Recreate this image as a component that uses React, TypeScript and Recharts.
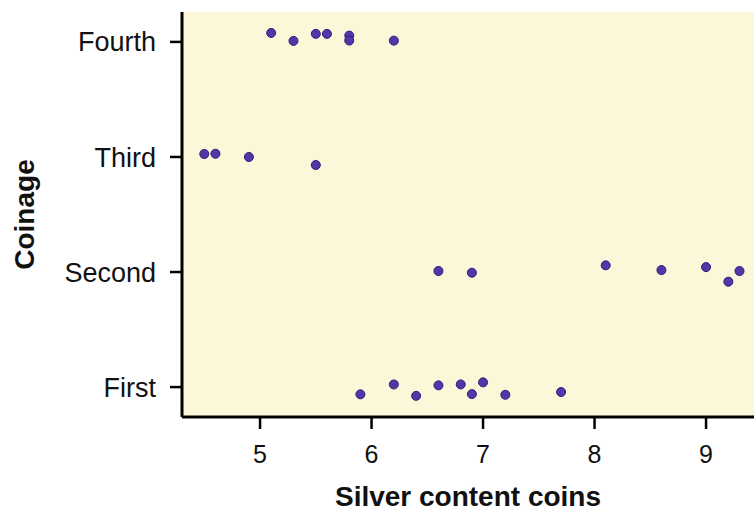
import React from "react";
import { ScatterChart, Scatter, XAxis, YAxis, ReferenceArea, Label } from "recharts";

const categories = ["First", "Second", "Third", "Fourth"];
const xTicks = [5, 6, 7, 8, 9];

const firstX = [5.9, 6.2, 6.4, 6.6, 6.8, 6.9, 7.0, 7.2, 7.7];
const firstY = [0.937, 1.023, 0.924, 1.015, 1.023, 0.939, 1.041, 0.933, 0.957];
const secondX = [6.6, 6.9, 8.1, 8.6, 9.0, 9.2, 9.3];
const secondY = [2.009, 1.994, 2.058, 2.017, 2.043, 1.916, 2.009];
const thirdX = [4.5, 4.6, 4.9, 5.5];
const thirdY = [3.026, 3.028, 3.0, 2.93];
const fourthX = [5.1, 5.3, 5.5, 5.6, 5.8, 5.8, 6.2];
const fourthY = [4.078, 4.009, 4.07, 4.07, 4.055, 4.012, 4.011];

const xs = [firstX, secondX, thirdX, fourthX];
const ys = [firstY, secondY, thirdY, fourthY];
const points = xs.flatMap((arr, i) => arr.map((x, j) => ({ x, y: ys[i][j] })));

const X_DOMAIN: [number, number] = [4.3, 9.43];
const Y_DOMAIN: [number, number] = [0.74, 4.26];
const FONT = "'Liberation Sans', Arial, sans-serif";

const Dot = (props: any) => {
  const { cx, cy } = props;
  if (cx == null || cy == null) return null;
  return <circle cx={cx} cy={cy} r={4.5} fill="#5038a8" stroke="#2e1a78" strokeWidth={1} />;
};

export default function App() {
  return (
    <div style={{ position: "fixed", left: 0, top: 0, width: 754, height: 513, background: "#fff" }}>
      <ScatterChart width={754} height={513} margin={{ top: 12, right: 0, left: 0, bottom: 0 }}>
        <ReferenceArea
          x1={X_DOMAIN[0]}
          x2={X_DOMAIN[1]}
          y1={Y_DOMAIN[0]}
          y2={Y_DOMAIN[1]}
          fill="#fdf7d9"
          fillOpacity={1}
          stroke="none"
          ifOverflow="hidden"
        />
        <XAxis
          type="number"
          dataKey="x"
          domain={X_DOMAIN}
          ticks={xTicks}
          allowDataOverflow
          height={96}
          axisLine={{ stroke: "#000", strokeWidth: 3 }}
          tickLine={{ stroke: "#000", strokeWidth: 2.5 }}
          tickSize={12}
          tickMargin={16}
          tick={{ fill: "#111", fontSize: 25, fontFamily: FONT }}
        >
          <Label
            value="Silver content coins"
            position="insideBottom"
            offset={7}
            style={{ fill: "#111", fontSize: 28, fontWeight: "bold", fontFamily: FONT }}
          />
        </XAxis>
        <YAxis
          type="number"
          dataKey="y"
          domain={Y_DOMAIN}
          ticks={[1, 2, 3, 4]}
          allowDataOverflow
          width={182}
          tickFormatter={(v: number) => categories[Math.round(v) - 1] ?? ""}
          axisLine={{ stroke: "#000", strokeWidth: 3 }}
          tickLine={{ stroke: "#000", strokeWidth: 2.5 }}
          tickSize={12}
          tickMargin={14}
          tick={{ fill: "#111", fontSize: 27, fontFamily: FONT }}
        >
          <Label
            value="Coinage"
            angle={-90}
            position="insideLeft"
            offset={24}
            style={{ fill: "#111", fontSize: 28, fontWeight: "bold", fontFamily: FONT, textAnchor: "middle" }}
          />
        </YAxis>
        <Scatter data={points} shape={Dot} isAnimationActive={false} />
      </ScatterChart>
    </div>
  );
}
